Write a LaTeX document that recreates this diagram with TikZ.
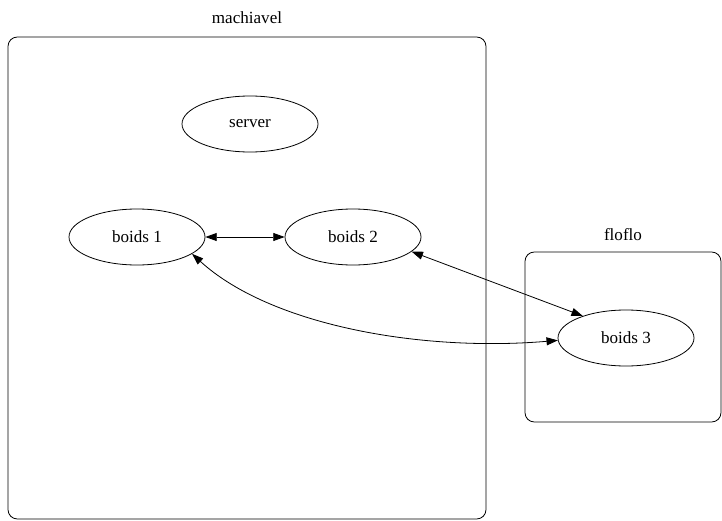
\documentclass[tikz,border=0pt]{standalone}
\usepackage{fontspec}
\setmainfont{Liberation Serif}
\usetikzlibrary{shapes.geometric,arrows.meta}
\begin{document}
\begin{tikzpicture}[x=0.75pt,y=-0.75pt,line width=0.6pt,
    proc/.style={draw,ellipse,minimum width=102pt,minimum height=42pt,inner sep=0pt,font=\fontsize{12.8}{15}\selectfont},
    host/.style={draw,rounded corners=7pt},
    hostlabel/.style={font=\fontsize{12.8}{15}\selectfont},
    link/.style={{Triangle[length=8.5pt,width=6pt]}-{Triangle[length=8.5pt,width=6pt]}}]
  \useasboundingbox (0,0) rectangle (722,521);
  \draw[host] (8,37) rectangle (486,519);
  \node[hostlabel] (mlabel) at (247,18) {machiavel};
  \draw[host] (525,252) rectangle (721,422);
  \node[hostlabel] (flabel) at (623,235) {floflo};
  \node[proc] (server) at (250,124) {server};
  \node[proc] (b1) at (137,237) {boids 1};
  \node[proc] (b2) at (353,237) {boids 2};
  \node[proc] (b3) at (626,338) {boids 3};
  \draw[link] (b1) -- (b2);
  \draw[link] (b2.-14) -- (b3.153);
  \draw[link] (b1.-17) .. controls (270,325) and (420,352) .. (b3.182);
\end{tikzpicture}
\end{document}
